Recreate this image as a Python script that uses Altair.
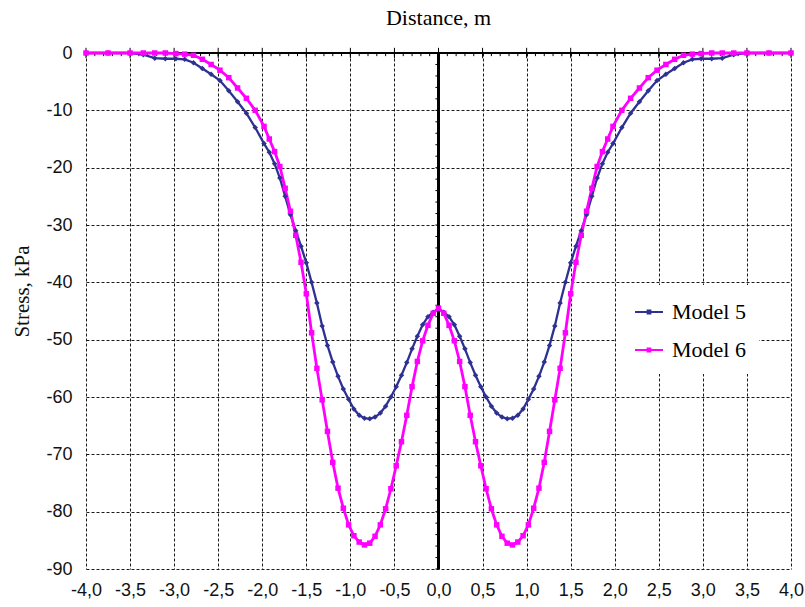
import altair as alt
import pandas as pd
import numpy as np

# ---------------- data ----------------
series_names = ["Model 5", "Model 6"]
series_colors = ["#2E3192", "#FF00FF"]
series_shapes = ["diamond", "square"]
series_widths = [2.3, 2.8]

distance = [-4.00, -3.75, -3.50, -3.35, -3.22, -3.10, -2.98, -2.88, -2.78, -2.68,
            -2.58, -2.48, -2.38, -2.28, -2.18, -2.08, -1.98, -1.92, -1.86, -1.80,
            -1.74, -1.68, -1.62, -1.56, -1.50, -1.44, -1.38, -1.32, -1.26, -1.20,
            -1.14, -1.08, -1.02, -0.96, -0.90, -0.84, -0.78, -0.72, -0.66, -0.60,
            -0.54, -0.48, -0.42, -0.36, -0.30, -0.24, -0.18, -0.12, -0.06, 0.00,
            0.06, 0.12, 0.18, 0.24, 0.30, 0.36, 0.42, 0.48, 0.54, 0.60,
            0.66, 0.72, 0.78, 0.84, 0.90, 0.96, 1.02, 1.08, 1.14, 1.20,
            1.26, 1.32, 1.38, 1.44, 1.50, 1.56, 1.62, 1.68, 1.74, 1.80,
            1.86, 1.92, 1.98, 2.08, 2.18, 2.28, 2.38, 2.48, 2.58, 2.68,
            2.78, 2.88, 2.98, 3.10, 3.22, 3.35, 3.50, 3.75, 4.00]

model5 = [0.0, 0.0, 0.0, -0.3, -0.9, -1.0, -1.0, -1.1, -1.7, -2.7,
          -3.7, -4.8, -6.6, -8.5, -10.5, -13.0, -15.8, -17.3, -19.3, -21.8,
          -25.0, -28.2, -31.0, -33.7, -36.6, -40.0, -43.6, -47.6, -51.0, -53.9,
          -56.4, -58.6, -60.4, -62.1, -63.2, -63.7, -63.8, -63.5, -62.8, -61.6,
          -60.0, -58.2, -56.2, -54.0, -51.6, -49.4, -47.4, -46.0, -45.2, -44.6,
          -45.2, -46.0, -47.4, -49.4, -51.6, -54.0, -56.2, -58.2, -60.0, -61.6,
          -62.8, -63.5, -63.8, -63.7, -63.2, -62.1, -60.4, -58.6, -56.4, -53.9,
          -51.0, -47.6, -43.6, -40.0, -36.6, -33.7, -31.0, -28.2, -25.0, -21.8,
          -19.3, -17.3, -15.8, -13.0, -10.5, -8.5, -6.6, -4.8, -3.7, -2.7,
          -1.7, -1.1, -1.0, -1.0, -0.9, -0.3, 0.0, 0.0, 0.0]

model6 = [0.0, 0.0, 0.0, 0.0, 0.0, 0.0, -0.1, -0.2, -0.4, -1.1,
          -2.0, -3.0, -4.3, -6.1, -7.9, -10.0, -12.8, -15.0, -17.2, -19.8,
          -23.6, -27.6, -31.8, -36.5, -42.0, -48.8, -55.0, -60.5, -66.0, -71.4,
          -75.9, -79.4, -82.3, -84.2, -85.3, -85.8, -85.5, -84.3, -82.3, -79.5,
          -76.0, -72.0, -67.8, -63.2, -58.2, -53.8, -50.2, -47.5, -45.4, -44.5,
          -45.4, -47.5, -50.2, -53.8, -58.2, -63.2, -67.8, -72.0, -76.0, -79.5,
          -82.3, -84.3, -85.5, -85.8, -85.3, -84.2, -82.3, -79.4, -75.9, -71.4,
          -66.0, -60.5, -55.0, -48.8, -42.0, -36.5, -31.8, -27.6, -23.6, -19.8,
          -17.2, -15.0, -12.8, -10.0, -7.9, -6.1, -4.3, -3.0, -2.0, -1.1,
          -0.4, -0.2, -0.1, 0.0, 0.0, 0.0, 0.0, 0.0, 0.0]

x_ticks = [-4.0, -3.5, -3.0, -2.5, -2.0, -1.5, -1.0, -0.5, 0.0,
           0.5, 1.0, 1.5, 2.0, 2.5, 3.0, 3.5, 4.0]
y_ticks = [0, -10, -20, -30, -40, -50, -60, -70, -80, -90]

# ---------------- tables ----------------
n = len(distance)
df = pd.DataFrame({
    "Distance": distance + distance,
    "Stress": model5 + model6,
    "Series": [series_names[0]] * n + [series_names[1]] * n,
})

minor_x = pd.DataFrame({"t": np.round(np.arange(-4.0, 4.0001, 0.1), 1)})
major_x = pd.DataFrame({"t": x_ticks})
minor_y = pd.DataFrame({"t": np.arange(-90, 1, 2)})

xs = alt.Scale(domain=[-4, 4], nice=False, zero=False)
ys = alt.Scale(domain=[-90, 0], nice=False, zero=False)
cs = alt.Scale(domain=series_names, range=series_colors)

grid_style = dict(grid=True, gridDash=[3, 2], gridColor="#1a1a1a", gridWidth=1,
                  domain=False, ticks=False)

x_axis = alt.Axis(
    values=x_ticks,
    labelExpr="(datum.value < 0 ? '-' : '') + replace(format(abs(datum.value), '.1f'), '.', ',')",
    labelFont="Liberation Sans", labelFontSize=18, labelColor="#111111",
    labelPadding=12, labelFlush=False, title=None, orient="bottom",
    **grid_style,
)
y_axis = alt.Axis(
    values=y_ticks,
    labelExpr="'' + datum.value",
    labelFont="Liberation Sans", labelFontSize=18, labelColor="#111111",
    labelPadding=14,
    title="Stress, kPa", titleFont="Liberation Serif", titleFontSize=21,
    titleFontWeight="normal", titleColor="#111111",
    titleX=-64, titleY=238, titleAngle=270, titleAlign="center",
    titleBaseline="middle",
    **grid_style,
)

legend = alt.Legend(
    orient="none", legendX=530, legendY=232, title=None,
    fillColor="white", padding=13, symbolOffset=6, labelOffset=9,
    symbolSize=784, rowPadding=13,
    symbolType="M-1,-0.07H1V0.07H-1Z M-0.17,-0.17H0.17V0.17H-0.17Z",
    symbolStrokeWidth=0, symbolOpacity=1,
    labelFont="Liberation Serif", labelFontSize=22, labelColor="black",
)

# ---------------- layers ----------------
def X(**kw):
    return alt.X(scale=xs, axis=x_axis, **kw)


def Y(**kw):
    return alt.Y(scale=ys, axis=y_axis, **kw)


top_line = alt.Chart(df).mark_rule(color="black", strokeWidth=1.2).encode(
    x=X(datum=-4), x2=alt.datum(4), y=Y(datum=0),
)
mid_line = alt.Chart(df).mark_rule(color="black", strokeWidth=1.2).encode(
    x=X(datum=0), y=Y(datum=0), y2=alt.datum(-90),
)
top_minor = alt.Chart(minor_x).mark_rule(color="black", strokeWidth=1).encode(
    x=X(field="t", type="quantitative"), y=Y(datum=0), y2=alt.datum(-0.55),
)
top_major = alt.Chart(major_x).mark_rule(color="black", strokeWidth=1).encode(
    x=X(field="t", type="quantitative"), y=Y(datum=0.9), y2=alt.datum(-0.9),
)
mid_minor = alt.Chart(minor_y).mark_rule(color="black", strokeWidth=1).encode(
    y=Y(field="t", type="quantitative"), x=X(datum=0), x2=alt.datum(-0.035),
)

layers = [top_line, mid_line, top_minor, top_major, mid_minor]

for name, col, shp, wid in zip(series_names, series_colors, series_shapes, series_widths):
    sub = alt.Chart(df).transform_filter(alt.datum.Series == name)
    layers.append(
        sub.mark_line(color=col, strokeWidth=wid).encode(
            x=X(field="Distance", type="quantitative"),
            y=Y(field="Stress", type="quantitative"),
        )
    )
for name, col, shp, wid in zip(series_names, series_colors, series_shapes, series_widths):
    sub = alt.Chart(df).transform_filter(alt.datum.Series == name)
    layers.append(
        sub.mark_point(filled=True, opacity=1, strokeWidth=0, shape=shp, size=30).encode(
            x=X(field="Distance", type="quantitative"),
            y=Y(field="Stress", type="quantitative"),
            color=alt.Color("Series:N", scale=cs, legend=legend),
        )
    )

chart = alt.layer(*layers).properties(
    width=705, height=516,
    padding={"left": 86, "top": 53, "right": 14, "bottom": 38},
    autosize="none",
    background="white",
    title=alt.TitleParams("Distance, m", font="Liberation Serif", fontSize=22,
                          fontWeight="normal", color="black", anchor="middle", offset=14),
).configure_view(stroke=None)

chart.save("out.html", embed_options={"renderer": "svg", "actions": False})
